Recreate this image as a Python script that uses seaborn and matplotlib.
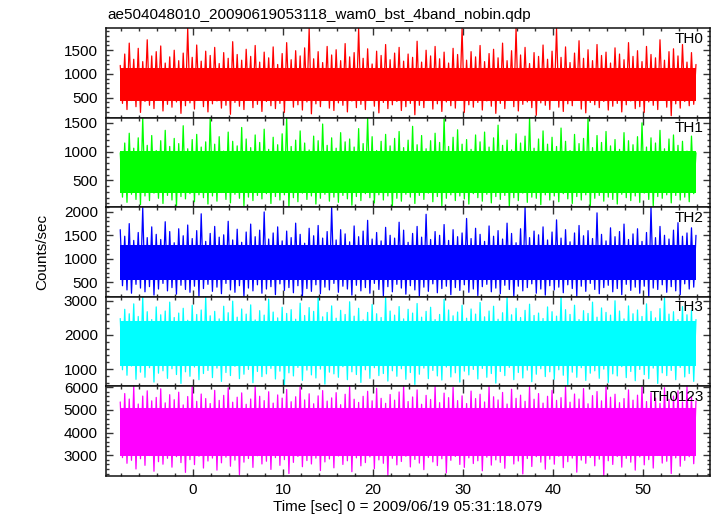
"""
WAM light curves, 4 bands + sum (QDP style stack)
Run: python plot.py  ->  out.png
"""

import numpy as np
import matplotlib
matplotlib.use("Agg")
import matplotlib.pyplot as plt
from matplotlib.ticker import MultipleLocator
import seaborn as sns

# ── Data ──────────────────────────────────────────────────────────────────────
# each band: local maxima every 0.5 s, local minima half-way between them
t_start = -8.1
dt = 0.5

th0_peak = [1180, 1420, 1650, 1310, 1540, 1260, 1720, 1380, 1470, 1590, 1230, 1360, 1500, 1280, 1440, 1960,
            1350, 1610, 1270, 1480, 1390, 1560, 1220, 1450, 1330, 1680, 1410, 1290, 1520, 1370, 1600, 1250,
            1460, 1340, 1570, 1200, 1430, 1660, 1300, 1490, 1380, 1550, 1960, 1320, 1470, 1240, 1580, 1400,
            1510, 1280, 1640, 1360, 1450, 1960, 1330, 1530, 1210, 1480, 1390, 1620, 1300, 1440, 1560, 1270,
            1420, 1350, 1690, 1250, 1500, 1380, 1580, 1320, 1460, 1230, 1540, 1410, 1960, 1290, 1470, 1360,
            1600, 1260, 1430, 1520, 1340, 1650, 1280, 1490, 1960, 1400, 1560, 1220, 1450, 1370, 1610, 1310,
            1480, 1960, 1350, 1570, 1240, 1440, 1700, 1330, 1510, 1280, 1620, 1390, 1460, 1230, 1550, 1420,
            1300, 1660, 1370, 1490, 1260, 1580, 1410, 1340, 1720, 1290, 1470, 1530, 1380, 1620, 1250, 1450,
            1200]
th0_dip = [380, 250, 440, 310, 190, 420, 340, 270, 460, 220, 360, 300, 410, 170, 330, 390,
           260, 450, 310, 200, 370, 430, 280, 340, 150, 400, 320, 250, 470, 290, 360, 210,
           420, 330, 270, 380, 190, 440, 300, 350, 240, 410, 160, 370, 310, 450, 280, 230,
           390, 340, 200, 430, 290, 360, 250, 470, 320, 180, 400, 270, 350, 420, 230, 310,
           380, 140, 340, 290, 440, 260, 370, 210, 410, 330, 280, 460, 190, 350, 300, 400,
           240, 430, 320, 170, 380, 270, 450, 310, 220, 360, 410, 290, 130, 390, 340, 250,
           440, 300, 210, 370, 330, 460, 260, 180, 400, 350, 290, 420, 240, 320, 380, 200,
           350, 430, 270, 310, 190, 410, 340, 250, 460, 300, 120, 370, 280, 420, 330, 360]

th1_peak = [980, 1150, 1320, 1060, 1240, 1590, 1110, 1280, 1020, 1190, 1370, 1090, 1230, 1140, 1450, 1050,
            1210, 1300, 1080, 1170, 1590, 1130, 1260, 1010, 1340, 1180, 1100, 1420, 1220, 1070, 1290, 1160,
            1390, 1040, 1250, 1120, 1310, 1590, 1090, 1200, 1360, 1150, 1030, 1270, 1190, 1480, 1110, 1240,
            1060, 1330, 1170, 1220, 1080, 1400, 1140, 1590, 1260, 1020, 1180, 1300, 1100, 1230, 1350, 1070,
            1200, 1440, 1120, 1280, 1050, 1190, 1320, 1160, 1590, 1090, 1250, 1380, 1130, 1210, 1040, 1290,
            1170, 1340, 1080, 1240, 1460, 1110, 1200, 1030, 1310, 1150, 1270, 1590, 1060, 1220, 1360, 1130,
            1250, 1090, 1410, 1180, 1020, 1300, 1140, 1230, 1590, 1070, 1280, 1160, 1350, 1100, 1210, 1040,
            1330, 1190, 1120, 1260, 1500, 1080, 1240, 1150, 1370, 1050, 1220, 1290, 1110, 1180, 1010, 1270,
            980]
th1_dip = [210, 120, 260, 170, 80, 230, 150, 280, 190, 100, 240, 160, 50, 220, 180, 270,
           130, 250, 200, 90, 230, 140, 290, 170, 110, 260, 190, 60, 210, 150, 240, 180,
           270, 100, 220, 160, 250, 40, 200, 130, 280, 170, 230, 90, 190, 260, 140, 210,
           120, 240, 180, 70, 220, 150, 270, 200, 110, 250, 160, 230, 40, 190, 140, 260,
           210, 100, 240, 170, 280, 130, 220, 60, 190, 250, 150, 230, 180, 90, 270, 200,
           140, 260, 110, 220, 170, 240, 50, 200, 150, 280, 120, 210, 190, 80, 250, 160,
           230, 130, 270, 180, 100, 220, 160, 250, 40, 190, 240, 140, 210, 170, 90, 260,
           200, 150, 230, 120, 280, 170, 60, 220, 190, 250, 110, 240, 160, 210, 130, 270]

th2_peak = [1620, 1480, 1750, 1390, 1560, 2090, 1450, 1680, 1520, 1410, 1790, 1580, 1340, 1640, 1490, 1720,
            1430, 1600, 1960, 1370, 1540, 1690, 1460, 1510, 1800, 1400, 1630, 1350, 1570, 1740, 1470, 1610,
            2000, 1420, 1550, 1680, 1380, 1590, 1450, 1760, 1520, 1330, 1650, 1490, 1710, 1440, 1580, 2100,
            1400, 1620, 1530, 1360, 1700, 1470, 1590, 1820, 1420, 1560, 1380, 1670, 1500, 1440, 1780, 1610,
            1350, 1540, 1690, 1460, 1950, 1410, 1580, 1500, 1730, 1390, 1620, 1470, 1550, 1860, 1430, 1650,
            1520, 1370, 1700, 1480, 1600, 1420, 1760, 1540, 1340, 1640, 2100, 1450, 1590, 1510, 1680, 1400,
            1570, 1830, 1440, 1620, 1360, 1550, 1710, 1490, 1600, 1430, 1980, 1520, 1380, 1660, 1470, 1580,
            1740, 1410, 1530, 1640, 1370, 1560, 2100, 1450, 1690, 1500, 1420, 1610, 1770, 1480, 1550, 1660,
            1500]
th2_dip = [420, 330, 260, 450, 370, 290, 400, 220, 350, 470, 310, 380, 240, 430, 340, 280,
           410, 200, 360, 450, 300, 390, 250, 470, 330, 280, 420, 190, 370, 310, 440, 260,
           350, 400, 230, 460, 320, 380, 270, 420, 190, 360, 300, 440, 250, 390, 330, 470,
           280, 410, 350, 220, 430, 310, 380, 260, 470, 340, 200, 400, 290, 450, 370, 240,
           420, 330, 190, 390, 300, 460, 270, 360, 410, 230, 380, 320, 440, 280, 350, 210,
           400, 450, 290, 370, 250, 430, 340, 190, 410, 310, 380, 460, 260, 350, 220, 420,
           330, 390, 270, 440, 360, 200, 410, 300, 470, 340, 250, 380, 430, 290, 360, 230,
           450, 320, 390, 260, 410, 190, 370, 340, 440, 280, 400, 310, 230, 460, 350, 390]

th3_peak = [2480, 2750, 2620, 2910, 2540, 3110, 2680, 2450, 2820, 2590, 2700, 2960, 2510, 2640, 2780, 2430,
            2870, 2600, 2730, 3110, 2560, 2690, 2470, 2840, 2650, 2990, 2520, 2760, 2610, 2880, 2440, 2710,
            2580, 3050, 2670, 2500, 2810, 2630, 2740, 2460, 2930, 2570, 2800, 2690, 3110, 2530, 2660, 2850,
            2490, 2720, 2600, 2970, 2550, 2780, 2440, 2660, 2890, 2620, 2510, 3110, 2700, 2580, 2830, 2470,
            2750, 2640, 2920, 2520, 2690, 2810, 2450, 2600, 3040, 2730, 2560, 2670, 2870, 2490, 2760, 2610,
            2950, 2530, 2700, 2840, 2460, 2650, 3110, 2590, 2780, 2510, 2720, 2900, 2570, 2640, 2480, 2820,
            2680, 2550, 3110, 2740, 2600, 2870, 2450, 2710, 2630, 2960, 2520, 2790, 2660, 2580, 3000, 2700,
            2470, 2850, 2620, 2730, 2540, 2910, 2690, 2500, 2770, 3110, 2610, 2680, 2450, 2830, 2590, 2720,
            2450]
th3_dip = [980, 820, 1090, 700, 910, 760, 1040, 620, 880, 950, 730, 1010, 840, 580, 920, 790,
           1060, 690, 870, 960, 750, 1030, 640, 900, 810, 1080, 720, 850, 990, 600, 930, 780,
           860, 1020, 710, 940, 520, 890, 800, 1050, 670, 970, 830, 740, 1000, 560, 910, 860,
           760, 1070, 690, 920, 840, 610, 980, 730, 1040, 810, 870, 650, 950, 790, 1010, 700,
           900, 550, 850, 1030, 720, 960, 800, 680, 1060, 770, 890, 620, 940, 830, 990, 710,
           1020, 760, 870, 590, 930, 810, 1050, 690, 900, 740, 970, 630, 850, 1010, 780, 920,
           700, 980, 820, 540, 910, 760, 1040, 670, 880, 950, 730, 1000, 610, 860, 800, 1070,
           750, 930, 660, 990, 840, 720, 1030, 580, 890, 810, 960, 690, 1050, 770, 870, 640]

sum_peak = [5350, 5720, 5480, 6030, 5260, 5610, 5840, 5400, 5550, 5930, 5310, 5670, 5450, 5780, 5220, 5590,
            6030, 5380, 5700, 5500, 5280, 5860, 5420, 5640, 5970, 5340, 5560, 5750, 5250, 5480, 6030, 5600,
            5410, 5800, 5300, 5660, 5520, 5900, 5360, 5580, 6030, 5440, 5710, 5270, 5620, 5850, 5390, 5530,
            5760, 5230, 5690, 6030, 5470, 5330, 5600, 5820, 5400, 5950, 5510, 5290, 5680, 5430, 5790, 6030,
            5370, 5570, 5880, 5250, 5640, 5460, 6030, 5320, 5740, 5540, 5990, 5410, 5620, 5280, 5830, 5500,
            5690, 5350, 6030, 5580, 5440, 5770, 5260, 5910, 5510, 5650, 5380, 6030, 5470, 5720, 5300, 5600,
            5860, 5420, 5540, 6030, 5340, 5700, 5480, 5940, 5270, 5630, 5810, 5400, 6030, 5560, 5690, 5320,
            5500, 5880, 5430, 5650, 6030, 5370, 5760, 5520, 5290, 5980, 5460, 5610, 5840, 5350, 6030, 5580,
            5400]
sum_dip = [2900, 2650, 2780, 2400, 2850, 2560, 2990, 2300, 2720, 2610, 2870, 2480, 2940, 2680, 2250, 2810,
           2590, 2960, 2440, 2750, 2880, 2350, 2670, 2920, 2520, 2790, 2150, 2700, 2860, 2470, 2980, 2620,
           2740, 2380, 2900, 2560, 2810, 2200, 2690, 2950, 2500, 2770, 2620, 2880, 2330, 2710, 2840, 2450,
           2970, 2600, 2760, 2280, 2890, 2540, 2680, 2930, 2410, 2800, 2650, 2120, 2870, 2580, 2730, 2960,
           2490, 2820, 2660, 2370, 2910, 2710, 2550, 2850, 2230, 2780, 2950, 2600, 2470, 2890, 2640, 2760,
           2320, 2920, 2570, 2800, 2690, 2430, 2980, 2620, 2750, 2180, 2860, 2510, 2940, 2700, 2390, 2830,
           2610, 2960, 2460, 2720, 2880, 2260, 2790, 2650, 2910, 2540, 2830, 2100, 2760, 2600, 2950, 2480,
           2870, 2700, 2350, 2930, 2580, 2810, 2440, 2990, 2660, 2740, 2200, 2890, 2520, 2780, 2940, 2630]

# solid centre of each band (counts/sec)
core_lo = [440, 290, 550, 1100, 2980]
core_hi = [1120, 1010, 1300, 2400, 5080]

band_names = ["TH0", "TH1", "TH2", "TH3", "TH0123"]
band_colors = ["#ff0000", "#00ff00", "#0000ff", "#00ffff", "#ff00ff"]
y_ranges = [(80, 1968), (35, 1591), (183, 2101), (493, 3116), (2090, 6035)]
y_major = [500, 500, 500, 1000, 1000]
y_minor = [100, 100, 100, 200, 200]

peaks = [th0_peak, th1_peak, th2_peak, th3_peak, sum_peak]
dips = [th0_dip, th1_dip, th2_dip, th3_dip, sum_dip]


def zigzag(pk, dp):
    n = len(pk) + len(dp)
    t = np.empty(n)
    y = np.empty(n)
    t[0::2] = t_start + dt * np.arange(len(pk))
    y[0::2] = pk
    t[1::2] = t_start + dt / 2 + dt * np.arange(len(dp))
    y[1::2] = dp
    return t, y


# ── Figure ────────────────────────────────────────────────────────────────────
sns.set_style("ticks")
plt.rcParams["font.family"] = ["Liberation Sans", "DejaVu Sans"]
plt.rcParams["font.size"] = 11
plt.rcParams["text.color"] = "black"
plt.rcParams["xtick.color"] = "black"
plt.rcParams["ytick.color"] = "black"

fig, axes = plt.subplots(5, 1, figsize=(7.17, 5.16), dpi=100, sharex=True)
fig.subplots_adjust(left=0.148, right=0.990, top=0.9457, bottom=0.0775, hspace=0)

for i, ax in enumerate(axes):
    t, y = zigzag(peaks[i], dips[i])
    c = band_colors[i]
    ax.fill_between([t[0], t[-1]], core_lo[i], core_hi[i], color=c, lw=0)
    sns.lineplot(x=t, y=y, ax=ax, color=c, lw=0.9, estimator=None)

    ax.set_xlim(-9.67, 57.44)
    ax.set_ylim(*y_ranges[i])
    ax.xaxis.set_major_locator(MultipleLocator(10))
    ax.xaxis.set_minor_locator(MultipleLocator(2))
    ax.yaxis.set_major_locator(MultipleLocator(y_major[i]))
    ax.yaxis.set_minor_locator(MultipleLocator(y_minor[i]))
    ax.tick_params(which="both", direction="in", top=True, right=True,
                   bottom=True, left=True, color="#333333", width=1.0)
    ax.tick_params(which="major", length=5)
    ax.tick_params(which="minor", length=2.5)
    ax.tick_params(axis="y", pad=6, labelsize=11)
    ax.tick_params(axis="x", pad=5, labelsize=11)
    for s in ax.spines.values():
        s.set_linewidth(1.1)
        s.set_color("#111111")
    ax.set_ylabel("")
    ax.text(0.99, 0.96, band_names[i], transform=ax.transAxes,
            ha="right", va="top", fontsize=11)

fig.text(107 / 717, 1 - 15 / 516, "ae504048010_20090619053118_wam0_bst_4band_nobin.qdp",
         ha="left", va="center", fontsize=11)
fig.text(42 / 717, 1 - 252 / 516, "Counts/sec", rotation=90,
         ha="center", va="center", fontsize=11)
fig.text(408 / 717, 1 - 507 / 516, "Time [sec] 0 = 2009/06/19 05:31:18.079",
         ha="center", va="center", fontsize=11)

plt.savefig("out.png", dpi=100)
plt.close()
